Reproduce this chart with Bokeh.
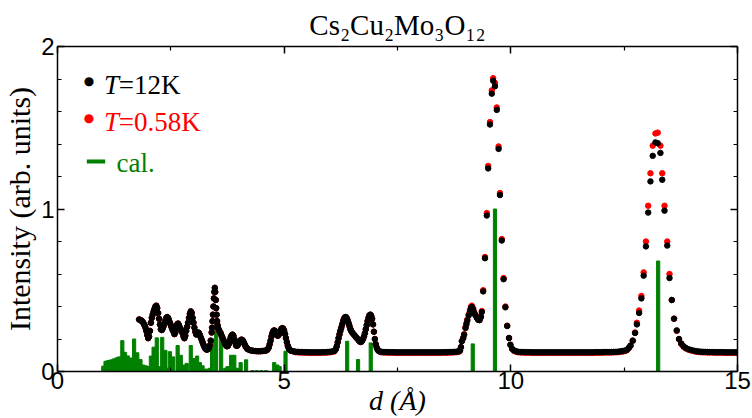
import math
from bokeh.plotting import figure
from bokeh.models import Range1d, FixedTicker, LinearAxis, Label, BoxAnnotation, Title
from bokeh.embed import file_html
from bokeh.resources import INLINE

# ---------------- data ----------------
x_ticks = [0, 5, 10, 15]
x_minor = [2.5, 7.5, 12.5]
y_ticks = [0, 1, 2]
y_minor = [0.2, 0.4, 0.6, 0.8, 1.2, 1.4, 1.6, 1.8]

# calculated intensities (green bars)
cal_d = [1.01, 1.06, 1.12, 1.19, 1.25, 1.31, 1.36, 1.43, 1.49, 1.55,
         1.61, 1.69, 1.76, 1.83, 1.89, 1.95, 2.01, 2.06, 2.12, 2.19,
         2.25, 2.31, 2.38, 2.44, 2.48, 2.55, 2.65, 2.72, 2.78, 2.85,
         2.94, 3.00, 3.08, 3.14, 3.20, 3.28, 3.36, 3.41, 3.50, 3.61,
         3.70, 3.75, 3.83, 3.90, 3.97, 4.04, 4.16, 4.30, 4.40, 4.50,
         4.60, 4.78, 4.85, 4.90, 5.03, 6.39, 6.63, 6.91, 9.16, 9.65,
         13.25]
cal_i = [0.033, 0.063, 0.068, 0.072, 0.078, 0.085, 0.09, 0.19, 0.118, 0.096,
         0.083, 0.20, 0.115, 0.074, 0.04, 0.035, 0.03, 0.095, 0.15, 0.207,
         0.03, 0.21, 0.13, 0.02, 0.122, 0.09, 0.16, 0.10, 0.04, 0.05,
         0.16, 0.08, 0.095, 0.055, 0.035, 0.015, 0.02, 0.20, 0.32, 0.20,
         0.02, 0.03, 0.10, 0.10, 0.02, 0.055, 0.072, 0.005, 0.005, 0.005,
         0.005, 0.055, 0.04, 0.03, 0.125, 0.186, 0.074, 0.176, 0.17, 1.0,
         0.68]

# low-d region 1.8 - 5.2
d_low = [1.80, 1.82, 1.84, 1.86, 1.88, 1.90, 1.92, 1.94, 1.96, 1.98,
         2.00, 2.02, 2.04, 2.06, 2.08, 2.10, 2.12, 2.14, 2.16, 2.18,
         2.20, 2.22, 2.24, 2.26, 2.28, 2.30, 2.32, 2.34, 2.36, 2.38,
         2.40, 2.42, 2.44, 2.46, 2.48, 2.50, 2.52, 2.54, 2.56, 2.58,
         2.60, 2.62, 2.64, 2.66, 2.68, 2.70, 2.72, 2.74, 2.76, 2.78,
         2.80, 2.82, 2.84, 2.86, 2.88, 2.90, 2.92, 2.94, 2.96, 2.98,
         3.00, 3.02, 3.04, 3.06, 3.08, 3.10, 3.12, 3.14, 3.16, 3.18,
         3.20, 3.22, 3.24, 3.26, 3.28, 3.30, 3.32, 3.34, 3.36, 3.38,
         3.40, 3.41, 3.42, 3.43, 3.44, 3.45, 3.46, 3.47, 3.48, 3.49,
         3.50, 3.51, 3.52, 3.53, 3.54, 3.56, 3.58, 3.60, 3.62, 3.64,
         3.66, 3.68, 3.70, 3.72, 3.74, 3.76, 3.78, 3.80, 3.82, 3.84,
         3.86, 3.88, 3.90, 3.92, 3.94, 3.96, 3.98, 4.00, 4.02, 4.04,
         4.06, 4.08, 4.10, 4.12, 4.14, 4.16, 4.18, 4.20, 4.24, 4.28,
         4.32, 4.36, 4.40, 4.44, 4.48, 4.52, 4.56, 4.60, 4.63, 4.66,
         4.68, 4.70, 4.72, 4.74, 4.76, 4.78, 4.80, 4.82, 4.84, 4.86,
         4.88, 4.90, 4.92, 4.94, 4.96, 4.98, 5.00, 5.02, 5.04, 5.06,
         5.08, 5.10, 5.12, 5.15, 5.20]
i12_low = [0.320, 0.318, 0.315, 0.310, 0.305, 0.295, 0.285, 0.270, 0.250, 0.225,
           0.205, 0.215, 0.250, 0.300, 0.330, 0.350, 0.370, 0.385, 0.400, 0.405,
           0.390, 0.360, 0.325, 0.290, 0.260, 0.255, 0.265, 0.280, 0.295, 0.315,
           0.330, 0.335, 0.330, 0.315, 0.300, 0.285, 0.270, 0.255, 0.245, 0.230,
           0.240, 0.270, 0.290, 0.295, 0.285, 0.270, 0.260, 0.250, 0.235, 0.215,
           0.205, 0.220, 0.250, 0.275, 0.300, 0.330, 0.355, 0.370, 0.360, 0.330,
           0.300, 0.270, 0.245, 0.228, 0.230, 0.240, 0.237, 0.225, 0.210, 0.195,
           0.180, 0.165, 0.152, 0.142, 0.136, 0.135, 0.138, 0.145, 0.160, 0.190,
           0.240, 0.270, 0.310, 0.350, 0.400, 0.450, 0.490, 0.515, 0.490, 0.440,
           0.390, 0.350, 0.310, 0.285, 0.270, 0.255, 0.245, 0.235, 0.220, 0.207,
           0.195, 0.182, 0.170, 0.160, 0.155, 0.158, 0.170, 0.190, 0.210, 0.222,
           0.227, 0.220, 0.200, 0.178, 0.160, 0.158, 0.165, 0.175, 0.185, 0.193,
           0.196, 0.193, 0.185, 0.172, 0.160, 0.150, 0.142, 0.137, 0.132, 0.129,
           0.127, 0.126, 0.125, 0.125, 0.125, 0.126, 0.127, 0.129, 0.134, 0.148,
           0.168, 0.190, 0.215, 0.235, 0.248, 0.253, 0.248, 0.235, 0.225, 0.220,
           0.226, 0.240, 0.253, 0.262, 0.267, 0.263, 0.250, 0.230, 0.205, 0.180,
           0.158, 0.143, 0.134, 0.128, 0.124]

# flat 5.25 - 6.10
d_f1 = [5.25, 5.30, 5.35, 5.40, 5.45, 5.50, 5.55, 5.60, 5.65, 5.70,
        5.75, 5.80, 5.85, 5.90, 5.95, 6.00, 6.05, 6.10]
i12_f1 = [0.122, 0.121, 0.120, 0.120, 0.119, 0.119, 0.118, 0.118, 0.118, 0.118,
          0.118, 0.118, 0.119, 0.119, 0.120, 0.121, 0.123, 0.126]
i058_f1 = [0.119, 0.118, 0.117, 0.117, 0.116, 0.116, 0.115, 0.115, 0.115, 0.115,
           0.115, 0.115, 0.116, 0.116, 0.117, 0.118, 0.120, 0.123]

# peaks at 6.4 and 6.9
d_mid = [6.12, 6.14, 6.16, 6.18, 6.20, 6.22, 6.24, 6.26, 6.28, 6.30,
         6.32, 6.34, 6.36, 6.38, 6.40, 6.42, 6.44, 6.46, 6.48, 6.50,
         6.53, 6.56, 6.59, 6.62, 6.65, 6.68, 6.70, 6.72, 6.74, 6.76,
         6.78, 6.80, 6.82, 6.84, 6.86, 6.88, 6.90, 6.92, 6.94, 6.96,
         6.98, 7.00, 7.02, 7.04, 7.06, 7.08, 7.11]
i12_mid = [0.130, 0.138, 0.155, 0.180, 0.205, 0.228, 0.250, 0.270, 0.290, 0.310,
           0.325, 0.333, 0.335, 0.328, 0.315, 0.298, 0.280, 0.262, 0.250, 0.240,
           0.230, 0.220, 0.210, 0.200, 0.190, 0.182, 0.183, 0.190, 0.200, 0.215,
           0.235, 0.260, 0.285, 0.310, 0.330, 0.345, 0.350, 0.343, 0.325, 0.290,
           0.245, 0.200, 0.168, 0.148, 0.135, 0.128, 0.123]

# flat 7.15 - 8.85
d_f2 = [7.15, 7.20, 7.25, 7.30, 7.35, 7.40, 7.45, 7.50, 7.55, 7.60,
        7.65, 7.70, 7.75, 7.80, 7.85, 7.90, 7.95, 8.00, 8.05, 8.10,
        8.15, 8.20, 8.25, 8.30, 8.35, 8.40, 8.45, 8.50, 8.55, 8.60,
        8.65, 8.70, 8.75, 8.80, 8.85]
i12_f2 = [0.121, 0.120, 0.120, 0.119, 0.119, 0.119, 0.118, 0.118, 0.118, 0.118,
          0.118, 0.118, 0.118, 0.118, 0.118, 0.118, 0.118, 0.118, 0.118, 0.118,
          0.118, 0.118, 0.118, 0.118, 0.118, 0.118, 0.118, 0.119, 0.119, 0.119,
          0.120, 0.120, 0.121, 0.122, 0.124]
i058_f2 = [0.118, 0.117, 0.117, 0.116, 0.116, 0.116, 0.115, 0.115, 0.115, 0.115,
           0.115, 0.115, 0.115, 0.115, 0.115, 0.115, 0.115, 0.115, 0.115, 0.115,
           0.115, 0.115, 0.115, 0.115, 0.115, 0.115, 0.115, 0.116, 0.116, 0.116,
           0.117, 0.117, 0.118, 0.119, 0.121]

# peaks at 9.1 and 9.6
d_main = [8.88, 8.90, 8.92, 8.95, 8.97, 9.00, 9.02, 9.04, 9.07, 9.10,
          9.12, 9.14, 9.17, 9.19, 9.22, 9.25, 9.28, 9.31, 9.34, 9.36,
          9.39, 9.43, 9.47, 9.50, 9.54, 9.58, 9.61, 9.65, 9.69, 9.73,
          9.76, 9.80, 9.84, 9.88, 9.92, 9.96, 9.99, 10.03, 10.07, 10.12]
i12_main = [0.130, 0.150, 0.186, 0.205, 0.226, 0.267, 0.290, 0.314, 0.345, 0.370,
            0.390, 0.397, 0.380, 0.360, 0.345, 0.330, 0.318, 0.316, 0.335, 0.366,
            0.493, 0.697, 0.960, 1.250, 1.520, 1.710, 1.790, 1.755, 1.610, 1.370,
            1.086, 0.806, 0.568, 0.395, 0.280, 0.206, 0.165, 0.140, 0.130, 0.124]
i058_main = [0.128, 0.150, 0.188, 0.208, 0.230, 0.272, 0.296, 0.320, 0.352, 0.378,
             0.398, 0.405, 0.388, 0.366, 0.350, 0.334, 0.320, 0.318, 0.338, 0.372,
             0.500, 0.705, 0.975, 1.265, 1.535, 1.730, 1.805, 1.775, 1.625, 1.385,
             1.098, 0.815, 0.575, 0.400, 0.282, 0.206, 0.164, 0.138, 0.127, 0.121]

# flat 10.17 - 12.52
d_f3 = [10.17, 10.22, 10.27, 10.32, 10.37, 10.42, 10.47, 10.52, 10.57, 10.62,
        10.67, 10.72, 10.77, 10.82, 10.87, 10.92, 10.97, 11.02, 11.07, 11.12,
        11.17, 11.22, 11.27, 11.32, 11.37, 11.42, 11.47, 11.52, 11.57, 11.62,
        11.67, 11.72, 11.77, 11.82, 11.87, 11.92, 11.97, 12.02, 12.07, 12.12,
        12.17, 12.22, 12.27, 12.32, 12.37, 12.42, 12.47, 12.52]
i12_f3 = [0.121, 0.120, 0.120, 0.119, 0.119, 0.119, 0.118, 0.118, 0.118, 0.118,
          0.118, 0.118, 0.118, 0.118, 0.118, 0.118, 0.118, 0.118, 0.118, 0.118,
          0.118, 0.118, 0.118, 0.118, 0.118, 0.118, 0.118, 0.118, 0.118, 0.118,
          0.118, 0.118, 0.118, 0.118, 0.119, 0.119, 0.119, 0.119, 0.120, 0.120,
          0.120, 0.120, 0.121, 0.121, 0.122, 0.124, 0.126, 0.129]
i058_f3 = [0.118, 0.117, 0.117, 0.116, 0.116, 0.116, 0.115, 0.115, 0.115, 0.115,
           0.115, 0.115, 0.115, 0.115, 0.115, 0.115, 0.115, 0.115, 0.115, 0.115,
           0.115, 0.115, 0.115, 0.115, 0.115, 0.115, 0.115, 0.115, 0.115, 0.115,
           0.115, 0.115, 0.115, 0.115, 0.116, 0.116, 0.116, 0.116, 0.117, 0.117,
           0.117, 0.117, 0.118, 0.118, 0.119, 0.121, 0.123, 0.126]

# peak at 13.2
d_high = [12.56, 12.60, 12.64, 12.69, 12.74, 12.78, 12.83, 12.88, 12.93, 12.98,
          13.03, 13.08, 13.13, 13.19, 13.24, 13.30, 13.34, 13.39, 13.45, 13.50,
          13.55, 13.60, 13.66, 13.71, 13.76, 13.81, 13.86, 13.92, 13.98, 14.04]
i12_high = [0.133, 0.145, 0.160, 0.190, 0.237, 0.290, 0.360, 0.450, 0.590, 0.770,
            0.978, 1.170, 1.327, 1.410, 1.405, 1.345, 1.180, 0.990, 0.775, 0.575,
            0.440, 0.325, 0.253, 0.200, 0.172, 0.155, 0.145, 0.137, 0.132, 0.128]
i058_high = [0.131, 0.143, 0.158, 0.190, 0.240, 0.300, 0.375, 0.465, 0.610, 0.800,
             1.020, 1.220, 1.390, 1.465, 1.470, 1.390, 1.220, 1.020, 0.800, 0.600,
             0.440, 0.325, 0.250, 0.198, 0.170, 0.152, 0.142, 0.134, 0.129, 0.125]

# flat 14.09 - 14.99
d_f4 = [14.09, 14.14, 14.19, 14.24, 14.29, 14.34, 14.39, 14.44, 14.49, 14.54,
        14.59, 14.64, 14.69, 14.74, 14.79, 14.84, 14.89, 14.94, 14.99]
i12_f4 = [0.125, 0.123, 0.122, 0.121, 0.121, 0.120, 0.120, 0.120, 0.119, 0.119,
          0.119, 0.119, 0.119, 0.118, 0.118, 0.118, 0.118, 0.118, 0.118]
i058_f4 = [0.122, 0.120, 0.119, 0.118, 0.118, 0.117, 0.117, 0.117, 0.116, 0.116,
           0.116, 0.116, 0.116, 0.115, 0.115, 0.115, 0.115, 0.115, 0.115]

# the 0.58 K data coincide with the 12 K data below 7.1 A
i058_low = i12_low
i058_mid = i12_mid

d_all = d_low + d_f1 + d_mid + d_f2 + d_main + d_f3 + d_high + d_f4
i12_all = i12_low + i12_f1 + i12_mid + i12_f2 + i12_main + i12_f3 + i12_high + i12_f4
i058_all = i058_low + i058_f1 + i058_mid + i058_f2 + i058_main + i058_f3 + i058_high + i058_f4

# ---------------- figure ----------------
p = figure(width=752, height=418, x_range=Range1d(0, 15), y_range=Range1d(0, 2),
           output_backend="svg", toolbar_location=None, title=None,
           min_border_left=54, min_border_right=15, min_border_top=46, min_border_bottom=46)
p.xgrid.visible = False
p.ygrid.visible = False
p.outline_line_color = None
p.background_fill_color = "white"
p.border_fill_color = "white"

bottom_ax = p.below[0]
left_ax = p.left[0]
bottom_ax.ticker = FixedTicker(ticks=x_ticks, minor_ticks=x_minor)
left_ax.ticker = FixedTicker(ticks=y_ticks, minor_ticks=y_minor)
top_ax = LinearAxis(ticker=FixedTicker(ticks=x_ticks, minor_ticks=x_minor))
right_ax = LinearAxis(ticker=FixedTicker(ticks=y_ticks, minor_ticks=y_minor))
p.add_layout(top_ax, "above")
p.add_layout(right_ax, "right")

for ax in [bottom_ax, left_ax, top_ax, right_ax]:
    ax.major_tick_in = 7
    ax.major_tick_out = 0
    ax.minor_tick_in = 4
    ax.minor_tick_out = 0
    ax.axis_line_width = 1.5
    ax.axis_line_color = "black"
    ax.major_tick_line_width = 1.5
    ax.major_tick_line_color = "black"
    ax.minor_tick_line_width = 1.2
    ax.minor_tick_line_color = "black"
    ax.major_label_text_font = "Liberation Sans"
    ax.major_label_text_font_size = "24px"
    ax.major_label_text_color = "black"
for ax in [top_ax, right_ax]:
    ax.major_label_text_font_size = "0px"
    ax.major_label_standoff = 0
bottom_ax.major_label_standoff = 0
left_ax.major_label_standoff = 3

left_ax.axis_label = "Intensity (arb. units)"
left_ax.axis_label_text_font = "Liberation Serif"
left_ax.axis_label_text_font_size = "30px"
left_ax.axis_label_text_font_style = "normal"
left_ax.axis_label_text_color = "black"
left_ax.axis_label_standoff = 2

bottom_ax.axis_label = "d (Å)"
bottom_ax.axis_label_text_font = "Liberation Serif"
bottom_ax.axis_label_text_font_size = "28px"
bottom_ax.axis_label_text_font_style = "italic"
bottom_ax.axis_label_text_color = "black"
bottom_ax.axis_label_standoff = -7

p.add_layout(Title(text="Cs₂Cu₂Mo₃O₁₂", text_font="Liberation Serif",
                   text_font_size="29px", text_font_style="normal",
                   text_color="black", align="center", standoff=11), "above")

p.vbar(x=cal_d, top=cal_i, width=0.07, color="#008000")
p.scatter(x=d_all, y=i058_all, size=5.5, color="#ff0000")
p.scatter(x=d_all, y=i12_all, size=5.5, color="black")


def lab(x, y, text, size, color="black", style="normal", font="Liberation Serif",
        align="left", baseline="alphabetic"):
    p.add_layout(Label(x=x, y=y, x_units="screen", y_units="screen", text=text,
                       text_font=font, text_font_size=f"{size}px", text_color=color,
                       text_font_style=style, text_align=align, text_baseline=baseline))


# legend (inside the frame)
lab(31.5, 291, "●", 12, font="DejaVu Sans", align="center", baseline="middle")
lab(46.5, 287, "T", 27, style="italic")
lab(61.3, 287, "=12K", 27)
lab(31.5, 253.5, "●", 12, color="#ff0000", font="DejaVu Sans", align="center",
    baseline="middle")
lab(46.5, 249.5, "T", 27, color="#ff0000", style="italic")
lab(61.3, 249.5, "=0.58K", 27, color="#ff0000")
p.add_layout(BoxAnnotation(left=29.3, right=47.7, bottom=208, top=212,
                           left_units="screen", right_units="screen",
                           bottom_units="screen", top_units="screen",
                           fill_color="#008000", fill_alpha=1.0, line_color=None))
lab(59, 209, "cal.", 27, color="#008000")

open("out.html", "w").write(file_html(p, INLINE))
